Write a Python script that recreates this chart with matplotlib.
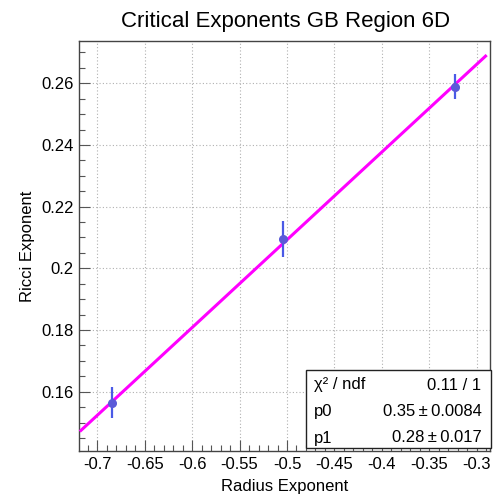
import numpy as np
import matplotlib
matplotlib.use("Agg")
import matplotlib.pyplot as plt
from matplotlib.patches import Rectangle
from matplotlib.ticker import MultipleLocator, FuncFormatter

# ---- data ----
radius_exp = [-0.6848, -0.5044, -0.3234]
ricci_exp = [0.1564, 0.2095, 0.2589]
ricci_err = [0.0050, 0.0057, 0.0041]

# fit parameters (linear: y = p0 + p1*x)
p0 = 0.3515
p1 = 0.2845
fit_range = (-0.7185, -0.2895)

title = "Critical Exponents GB Region 6D"
xlabel = "Radius Exponent"
ylabel = "Ricci Exponent"
stats_labels = ["\u03c7\u00b2 / ndf", "p0", "p1"]
stats_values = ["0.11 / 1", "0.35\u2009\u00b1\u20090.0084", "0.28\u2009\u00b1\u20090.017"]

xlim = (-0.7193, -0.2860)
ylim = (0.14077, 0.2737)

plt.rcParams['font.family'] = ['Liberation Sans', 'DejaVu Sans']

W, H = 493, 495
fig = plt.figure(figsize=(W / 100, H / 100), dpi=100)
ax = fig.add_axes([79 / W, 1 - 451 / H, (490 - 79) / W, (451 - 41) / H])

ax.set_xlim(*xlim)
ax.set_ylim(*ylim)

# grid
ax.grid(True, which='major', linestyle=(0, (1, 2)), color='#b0b0b0', linewidth=0.8)
ax.set_axisbelow(True)

# fit line
xf = np.linspace(fit_range[0], fit_range[1], 200)
ax.plot(xf, p0 + p1 * xf, color='#ff00ff', linewidth=2.2, zorder=3, solid_capstyle='butt')

# data
ax.errorbar(radius_exp, ricci_exp, yerr=ricci_err, fmt='o', color='#5a5ad8',
            ecolor='#4a5ae6', elinewidth=1.6, markersize=5.5, capsize=0, zorder=4)

# ticks
ax.xaxis.set_major_locator(MultipleLocator(0.05))
ax.xaxis.set_minor_locator(MultipleLocator(0.01))
ax.yaxis.set_major_locator(MultipleLocator(0.02))
ax.yaxis.set_minor_locator(MultipleLocator(0.005))
ax.tick_params(which='both', direction='in', top=False, right=False, width=0.8, color='#555555')
ax.tick_params(which='major', length=8, labelsize=12, pad=4)
ax.tick_params(which='minor', length=4)
ax.xaxis.set_major_formatter(FuncFormatter(lambda v, p: '%g' % round(v, 4)))
ax.yaxis.set_major_formatter(FuncFormatter(lambda v, p: '%g' % round(v, 4)))
for sp in ax.spines.values():
    sp.set_color('#444444')
    sp.set_linewidth(1.0)

ax.set_xlabel(xlabel, fontsize=12)
ax.xaxis.set_label_coords(0.5, -0.068)
ax.set_ylabel(ylabel, fontsize=12)
ax.yaxis.set_label_coords(-0.107, 0.5)

fig.text(285.4 / W, 1 - 26.7 / H, title, ha='center', va='baseline', fontsize=16)

# stats box (figure pixel coords)
bx0, bx1, by0, by1 = 306, 490.5, 370, 447.5
rect = Rectangle((bx0 / W, 1 - by1 / H), (bx1 - bx0) / W, (by1 - by0) / H,
                 transform=fig.transFigure, facecolor='white', edgecolor='#222222',
                 linewidth=1.0, zorder=10)
fig.patches.append(rect)
baselines = [389.5, 416, 442.5]
for lab, val, yb in zip(stats_labels, stats_values, baselines):
    fig.text(314 / W, 1 - yb / H, lab, ha='left', va='baseline', fontsize=12, zorder=11)
    fig.text(481.5 / W, 1 - yb / H, val, ha='right', va='baseline', fontsize=12, zorder=11)

fig.savefig('out.png', dpi=100)
